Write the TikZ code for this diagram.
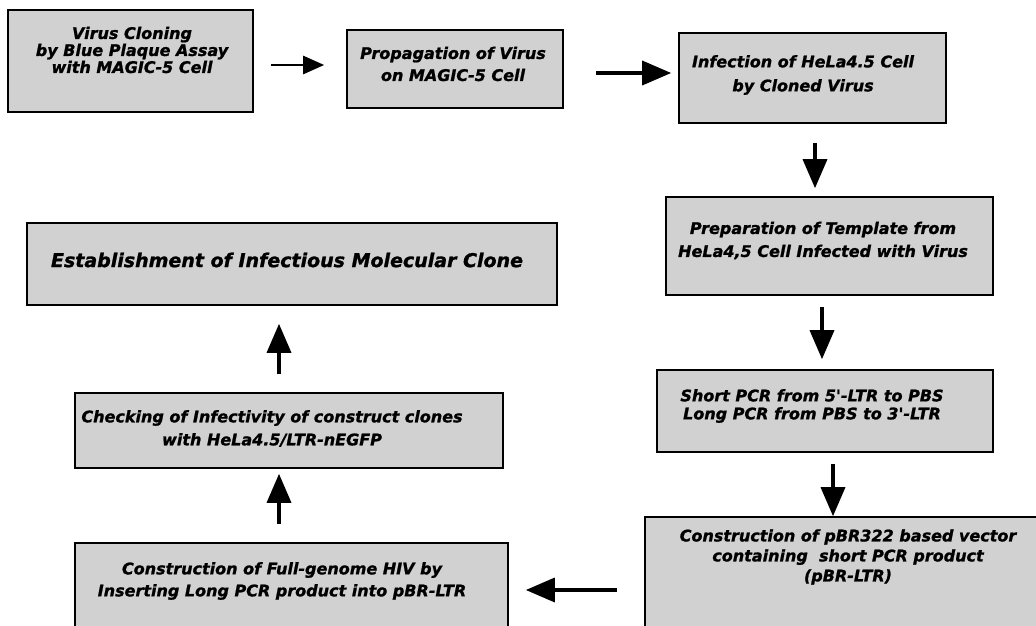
\documentclass[tikz,border=0pt]{standalone}
\usepackage{fontspec}
\newfontfamily\boxfont{DejaVu Sans}[BoldItalicFeatures={FakeBold=1.2}]
\usetikzlibrary{arrows.meta}
\begin{document}
\begin{tikzpicture}[x=1pt,y=-1pt,
  box/.style={draw=black, line width=1.6pt, fill=black!18, inner sep=0pt},
  txt/.style={font=\boxfont\bfseries\itshape\fontsize{16}{#1}\selectfont, align=center, inner sep=0pt},
  bigtxt/.style={font=\boxfont\bfseries\itshape\fontsize{19}{22}\selectfont, align=center, inner sep=0pt},
  arr/.style={line width=3.5pt, -{Triangle[length=29pt,width=24pt]}},
  arrsmall/.style={line width=2.5pt, -{Triangle[length=21pt,width=18pt]}}
]
\useasboundingbox (0,0) rectangle (1036,626);
\clip (0,0) rectangle (1036,626);

% boxes
\node[box, minimum width=245pt, minimum height=102pt] (b1) at (130.5,61) {};
\node[box, minimum width=216pt, minimum height=78pt] (b2) at (455,69) {};
\node[box, minimum width=267pt, minimum height=90pt] (b3) at (812.5,78) {};
\node[box, minimum width=327pt, minimum height=98pt] (b4) at (829.5,246) {};
\node[box, minimum width=336pt, minimum height=82pt] (b5) at (825,411) {};
\node[box, minimum width=405pt, minimum height=133pt] (b6) at (847.5,583.5) {};
\node[box, minimum width=433pt, minimum height=107pt] (b7) at (291.5,596.5) {};
\node[box, minimum width=428pt, minimum height=75pt] (b8) at (289,430.5) {};
\node[box, minimum width=530pt, minimum height=82pt] (b9) at (292,264) {};

% texts
\node[txt=17pt] (t1) at (132,50) {Virus Cloning\\by Blue Plaque Assay\\with MAGIC-5 Cell};
\node[txt=22pt] (t2) at (453,64) {Propagation of Virus\\on MAGIC-5 Cell};
\node[txt=24pt] (t3) at (803,75) {Infection of HeLa4.5 Cell\\by Cloned Virus};
\node[txt=23pt] (t4) at (823,240.5) {Preparation of Template from\\HeLa4,5 Cell Infected with Virus};
\node[txt=18pt] (t5) at (812,406) {Short PCR from 5'-LTR to PBS\\Long PCR from PBS to 3'-LTR};
\node[txt=20pt] (t6) at (848,557) {Construction of pBR322 based vector\\containing\ \ short PCR product\\(pBR-LTR)};
\node[txt=22pt] (t7) at (282,581) {Construction of Full-genome HIV by\\Inserting Long PCR product into pBR-LTR};
\node[txt=23pt] (t8) at (272,428.5) {Checking of Infectivity of construct clones\\with HeLa4.5/LTR-nEGFP};
\node[bigtxt] (t9) at (287,260) {Establishment of Infectious Molecular Clone};

% arrows
\draw[arrsmall] ([xshift=17pt,yshift=-4pt]b1.east) -- ([xshift=-22pt,yshift=4pt]b2.west);
\draw[arr] ([xshift=32pt,yshift=-4pt]b2.east) -- ([xshift=-7pt,yshift=5pt]b3.west);
\draw[arr] ([xshift=2.5pt,yshift=-19pt]b3.south) -- ([xshift=-14.5pt,yshift=8pt]b4.north);
\draw[arr] ([xshift=-7.5pt,yshift=-11pt]b4.south) -- ([xshift=-3pt,yshift=10pt]b5.north);
\draw[arr] ([xshift=8pt,yshift=-11pt]b5.south) -- ([xshift=-14.5pt]b6.north);
\draw[arr] ([xshift=-27pt,yshift=-6.5pt]b6.west) -- ([xshift=17pt,yshift=6.5pt]b7.east);
\draw[arr] ([xshift=-12.5pt,yshift=18pt]b7.north) -- ([xshift=-10pt,yshift=-5pt]b8.south);
\draw[arr] ([xshift=-10pt,yshift=18pt]b8.north) -- ([xshift=-13pt,yshift=-18pt]b9.south);
\end{tikzpicture}
\end{document}
